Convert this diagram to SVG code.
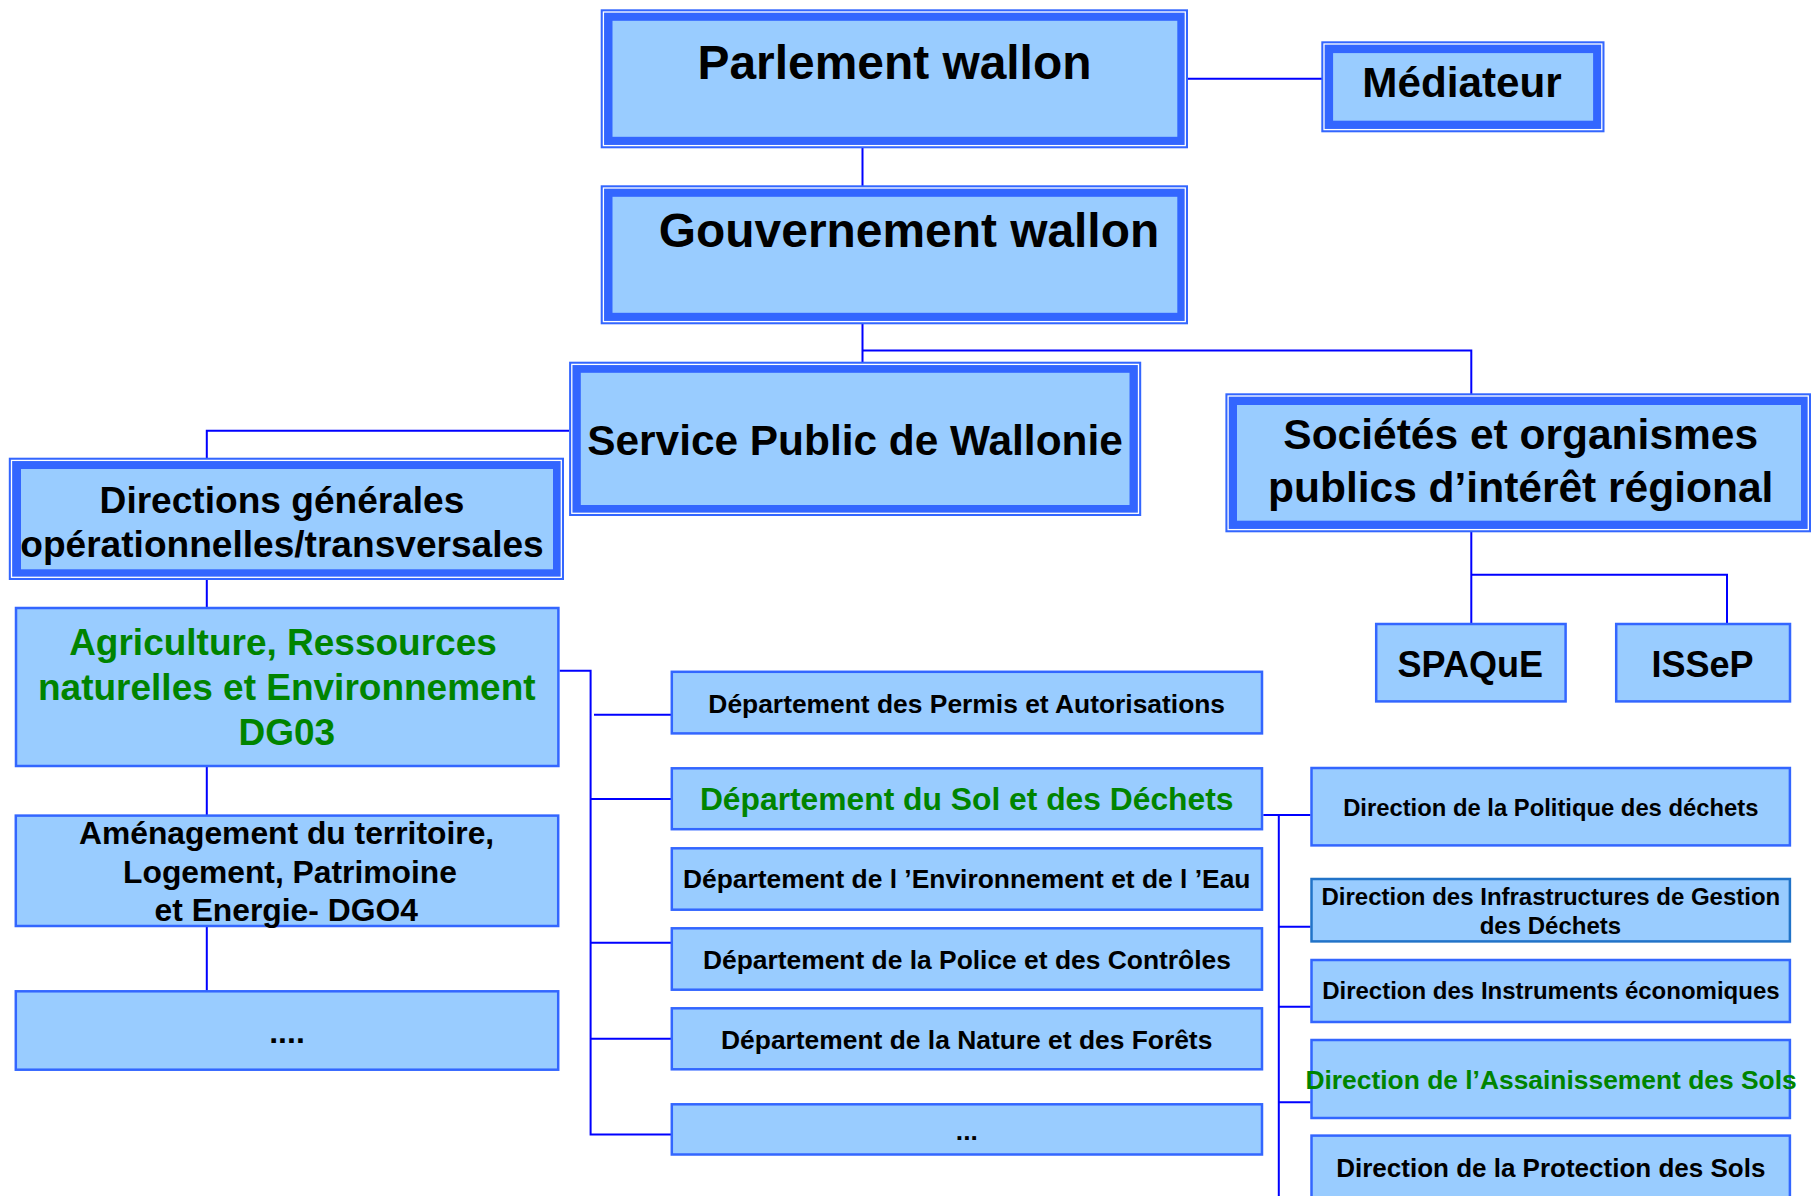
<svg xmlns="http://www.w3.org/2000/svg" width="1812" height="1196" viewBox="0 0 1812 1196">
<style>
.dbo{fill:#3366ff}
.dbw{fill:none;stroke:#ffffff;stroke-width:1.3}
.dbi{fill:#99ccff}
.box{fill:#99ccff;stroke:#3366ff;stroke-width:2.5}
.box2{fill:#99ccff;stroke:#2173c8;stroke-width:2.5}
.con{fill:none;stroke:#0000ff;stroke-width:2}
text{font-family:"Liberation Sans",Arial,sans-serif;font-weight:bold;text-anchor:middle;fill:#000000}
.g{fill:#008400}
</style>
<rect width="1812" height="1196" fill="#ffffff"/>

<g id="connectors">
<path class="con" d="M862.5 148 V186 M862.5 324 V362 M862.5 350.5 H1471.3 V394"/>
<path class="con" d="M1188 78.7 H1322"/>
<path class="con" d="M569 430.7 H206.8 V458 M206.8 580 V607 M206.8 767 V815 M206.8 927 V991"/>
<path class="con" d="M559.6 670.7 H590.6 V1134.5 H671 M594 714.7 H671 M590.6 799 H671 M590.6 942.7 H671 M590.6 1038.8 H671"/>
<path class="con" d="M1263.3 815 H1310.5 M1278.8 815 V1196 M1278.8 926.7 H1310.5 M1278.8 1006.7 H1310.5 M1278.8 1102.3 H1310.5"/>
<path class="con" d="M1471.3 532 V623 M1471.3 574.7 H1727 V623"/>
</g>

<g id="parlement">
<rect class="dbo" x="600.7" y="9.3" width="587.3" height="139"/>
<rect class="dbw" x="603.4" y="12" width="581.9" height="133.6"/>
<rect class="dbi" x="612.5" y="20.8" width="564.8" height="116"/>
<text x="894.5" y="79" font-size="47.9">Parlement wallon</text>
</g>

<g id="gouvernement">
<rect class="dbo" x="600.7" y="185.3" width="587.3" height="139"/>
<rect class="dbw" x="603.4" y="188" width="581.9" height="133.6"/>
<rect class="dbi" x="612.5" y="196.8" width="564.8" height="116"/>
<text x="909" y="246.7" font-size="47.9">Gouvernement wallon</text>
</g>

<g id="mediateur">
<rect class="dbo" x="1321.3" y="41.3" width="283.2" height="91"/>
<rect class="dbw" x="1324" y="44" width="277.8" height="85.6"/>
<rect class="dbi" x="1333.1" y="53.1" width="260" height="67.6"/>
<text x="1462" y="97.3" font-size="42.2">Médiateur</text>
</g>

<g id="spw">
<rect class="dbo" x="569.1" y="361.7" width="572.1" height="154.3"/>
<rect class="dbw" x="571.8" y="364.4" width="566.7" height="148.9"/>
<rect class="dbi" x="580.8" y="372.8" width="548.7" height="132.2"/>
<text x="855" y="455" font-size="42.4">Service Public de Wallonie</text>
</g>

<g id="societes">
<rect class="dbo" x="1225.4" y="393.3" width="585.6" height="139"/>
<rect class="dbw" x="1228.1" y="396" width="580.2" height="133.6"/>
<rect class="dbi" x="1237" y="405" width="564" height="115.7"/>
<text x="1520.7" y="449" font-size="42.5">Sociétés et organismes</text>
<text x="1520.7" y="501.7" font-size="42.5">publics d’intérêt régional</text>
</g>

<g id="dg">
<rect class="dbo" x="8.8" y="457.7" width="555.2" height="122.3"/>
<rect class="dbw" x="11.5" y="460.4" width="549.8" height="116.9"/>
<rect class="dbi" x="21" y="469" width="532" height="100.3"/>
<text x="282" y="513.3" font-size="37.1">Directions générales</text>
<text x="282" y="556.7" font-size="37.1">opérationnelles/transversales</text>
</g>

<g id="dgo3">
<rect class="box" x="16" y="608" width="542.4" height="158"/>
<text class="g" x="283" y="655" font-size="37">Agriculture, Ressources</text>
<text class="g" x="286.8" y="700" font-size="37">naturelles et Environnement</text>
<text class="g" x="286.8" y="745" font-size="37">DG03</text>
</g>

<g id="dgo4">
<rect class="box" x="15.8" y="815.6" width="542.4" height="110.4"/>
<text x="286.6" y="844.3" font-size="31.8">Aménagement du territoire,</text>
<text x="290" y="882.7" font-size="31.8">Logement, Patrimoine</text>
<text x="286.2" y="921" font-size="31.8">et Energie- DGO4</text>
</g>

<g id="dg-autres">
<rect class="box" x="15.8" y="991.3" width="542.4" height="78.4"/>
<text x="287" y="1042.7" font-size="32">....</text>
</g>

<g id="spaque">
<rect class="box" x="1376.2" y="624" width="189.4" height="77.4"/>
<text x="1470.3" y="676.7" font-size="36">SPAQuE</text>
</g>

<g id="issep">
<rect class="box" x="1616.2" y="624" width="173.8" height="77.4"/>
<text x="1702.5" y="676.7" font-size="36">ISSeP</text>
</g>

<g id="dep-permis">
<rect class="box" x="671.8" y="671.8" width="590.2" height="61.6"/>
<text x="966.7" y="713" font-size="26.4">Département des Permis et Autorisations</text>
</g>

<g id="dep-sol">
<rect class="box" x="671.8" y="768.3" width="590.2" height="60.9"/>
<text class="g" x="966.7" y="810.4" font-size="31.8">Département du Sol et des Déchets</text>
</g>

<g id="dep-env">
<rect class="box" x="671.8" y="848.3" width="590.2" height="61.4"/>
<text x="966.7" y="888.4" font-size="26.4">Département de l ’Environnement et de l ’Eau</text>
</g>

<g id="dep-police">
<rect class="box" x="671.8" y="928.3" width="590.2" height="61.4"/>
<text x="966.9" y="968.7" font-size="26.4">Département de la Police et des Contrôles</text>
</g>

<g id="dep-nature">
<rect class="box" x="671.8" y="1008.3" width="590.2" height="61"/>
<text x="966.7" y="1048.7" font-size="26.4">Département de la Nature et des Forêts</text>
</g>

<g id="dep-autres">
<rect class="box" x="671.8" y="1104.3" width="590.2" height="50.2"/>
<text x="966.8" y="1139.7" font-size="26.4">...</text>
</g>

<g id="dir-politique">
<rect class="box" x="1311.5" y="768" width="478.4" height="77.4"/>
<text x="1550.8" y="815.7" font-size="23.8">Direction de la Politique des déchets</text>
</g>

<g id="dir-infrastructures">
<rect class="box2" x="1311.5" y="879" width="478.4" height="62.4"/>
<text x="1550.9" y="905" font-size="24">Direction des Infrastructures de Gestion</text>
<text x="1550.4" y="933.7" font-size="24">des Déchets</text>
</g>

<g id="dir-instruments">
<rect class="box" x="1311.5" y="960" width="478.4" height="62"/>
<text x="1550.9" y="999.3" font-size="24">Direction des Instruments économiques</text>
</g>

<g id="dir-assainissement">
<rect class="box" x="1311.5" y="1040" width="478.4" height="78"/>
<text class="g" x="1551.1" y="1088.7" font-size="26.4">Direction de l’Assainissement des Sols</text>
</g>

<g id="dir-protection">
<rect class="box" x="1311.5" y="1135.6" width="478.4" height="80"/>
<text x="1550.8" y="1176.7" font-size="26">Direction de la Protection des Sols</text>
</g>
</svg>
